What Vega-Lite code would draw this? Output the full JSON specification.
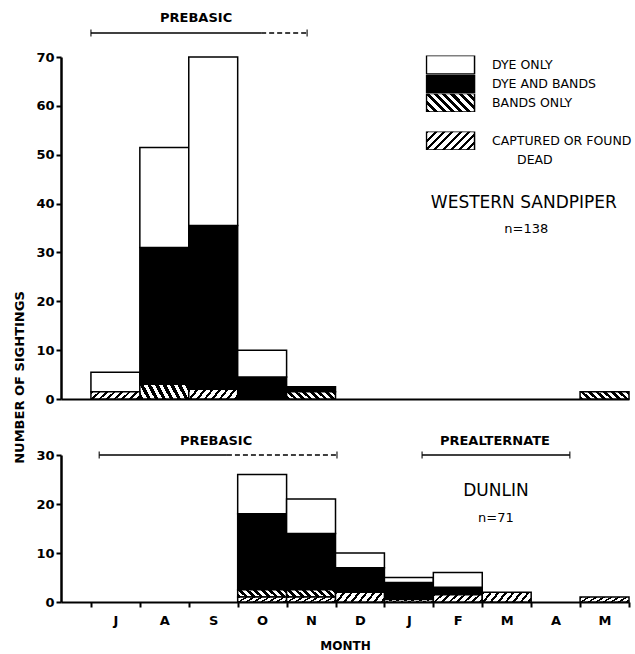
{
  "$schema": "https://vega.github.io/schema/vega-lite/v6.json",
  "padding": {"left": 13, "top": 11, "right": 0, "bottom": 0},
  "background": "white",
  "config": {
    "view": {"stroke": null},
    "font": "DejaVu Sans",
    "axis": {"domainColor": "black", "tickColor": "black", "labelColor": "black", "titleColor": "black", "grid": false}
  },
  "datasets": {
    "ws": [
      {"month": "Jul", "start": 0, "end": 1, "category": "CAPTURED OR FOUND DEAD", "count": 1.5},
      {"month": "Jul", "start": 0, "end": 1, "category": "DYE ONLY", "count": 4},
      {"month": "Aug", "start": 1, "end": 2, "category": "BANDS ONLY", "count": 3},
      {"month": "Aug", "start": 1, "end": 2, "category": "DYE AND BANDS", "count": 28},
      {"month": "Aug", "start": 1, "end": 2, "category": "DYE ONLY", "count": 20.5},
      {"month": "Sep", "start": 2, "end": 3, "category": "CAPTURED OR FOUND DEAD", "count": 2},
      {"month": "Sep", "start": 2, "end": 3, "category": "DYE AND BANDS", "count": 33.5},
      {"month": "Sep", "start": 2, "end": 3, "category": "DYE ONLY", "count": 34.5},
      {"month": "Oct", "start": 3, "end": 4, "category": "DYE AND BANDS", "count": 4.5},
      {"month": "Oct", "start": 3, "end": 4, "category": "DYE ONLY", "count": 5.5},
      {"month": "Nov", "start": 4, "end": 5, "category": "BANDS ONLY", "count": 1.5},
      {"month": "Nov", "start": 4, "end": 5, "category": "DYE AND BANDS", "count": 1},
      {"month": "May", "start": 10, "end": 11, "category": "BANDS ONLY", "count": 1.5}
    ],
    "dunlin": [
      {"month": "Oct", "start": 3, "end": 4, "category": "CAPTURED OR FOUND DEAD", "count": 1},
      {"month": "Oct", "start": 3, "end": 4, "category": "BANDS ONLY", "count": 1.5},
      {"month": "Oct", "start": 3, "end": 4, "category": "DYE AND BANDS", "count": 15.5},
      {"month": "Oct", "start": 3, "end": 4, "category": "DYE ONLY", "count": 8},
      {"month": "Nov", "start": 4, "end": 5, "category": "CAPTURED OR FOUND DEAD", "count": 1},
      {"month": "Nov", "start": 4, "end": 5, "category": "BANDS ONLY", "count": 1.5},
      {"month": "Nov", "start": 4, "end": 5, "category": "DYE AND BANDS", "count": 11.5},
      {"month": "Nov", "start": 4, "end": 5, "category": "DYE ONLY", "count": 7},
      {"month": "Dec", "start": 5, "end": 6, "category": "CAPTURED OR FOUND DEAD", "count": 2},
      {"month": "Dec", "start": 5, "end": 6, "category": "DYE AND BANDS", "count": 5},
      {"month": "Dec", "start": 5, "end": 6, "category": "DYE ONLY", "count": 3},
      {"month": "Jan", "start": 6, "end": 7, "category": "CAPTURED OR FOUND DEAD", "count": 0.5},
      {"month": "Jan", "start": 6, "end": 7, "category": "DYE AND BANDS", "count": 3.5},
      {"month": "Jan", "start": 6, "end": 7, "category": "DYE ONLY", "count": 1},
      {"month": "Feb", "start": 7, "end": 8, "category": "CAPTURED OR FOUND DEAD", "count": 1.5},
      {"month": "Feb", "start": 7, "end": 8, "category": "DYE AND BANDS", "count": 1.5},
      {"month": "Feb", "start": 7, "end": 8, "category": "DYE ONLY", "count": 3},
      {"month": "Mar", "start": 8, "end": 9, "category": "CAPTURED OR FOUND DEAD", "count": 2},
      {"month": "May", "start": 10, "end": 11, "category": "CAPTURED OR FOUND DEAD", "count": 1}
    ],
    "spans": [
      {"panel": "WS", "label": "PREBASIC", "a": 0, "b": 3.48, "c": 4.42, "y": 74.9, "tx": 2.15, "ty": 78},
      {"panel": "DU", "label": "PREBASIC", "a": 0.17, "b": 2.78, "c": 5.03, "y": 30, "tx": 2.56, "ty": 32.9},
      {"panel": "DU", "label": "PREALTERNATE", "a": 6.77, "b": 9.79, "c": 9.79, "y": 30, "tx": 8.26, "ty": 32.9}
    ],
    "titles": [
      {"panel": "WS", "label": "WESTERN SANDPIPER", "tx": 8.85, "ty": 40.1},
      {"panel": "WS", "label": "n=138", "tx": 8.9, "ty": 34.8},
      {"panel": "DU", "label": "DUNLIN", "tx": 8.28, "ty": 22.65},
      {"panel": "DU", "label": "n=71", "tx": 8.28, "ty": 17.1}
    ]
  },
  "spacing": 56,
  "bounds": "flush",
  "resolve": {"scale": {"x": "independent", "y": "independent", "fill": "independent", "stroke": "independent"}},
  "vconcat": [
    {
      "width": 568,
      "height": 342,
      "resolve": {"axis": {"x": "independent", "y": "independent"}},
      "layer": [
        {
          "data": {"name": "ws"},
          "transform": [
            {"calculate": "indexof(['CAPTURED OR FOUND DEAD','BANDS ONLY','DYE AND BANDS','DYE ONLY'], datum.category)", "as": "ord"},
            {"stack": "count", "groupby": ["start"], "sort": [{"field": "ord", "order": "ascending"}], "as": ["y0", "y1"]},
            {"filter": "datum.category == 'DYE ONLY' || datum.category == 'DYE AND BANDS'"}
          ],
          "mark": {"type": "rect", "strokeWidth": 1.5},
          "encoding": {
            "x": {"field": "start", "type": "quantitative", "scale": {"domain": [-0.612, 11], "nice": false, "zero": false}, "axis": {"title": null, "labels": false, "ticks": false, "domainWidth": 2}},
            "x2": {"field": "end"},
            "y": {"field": "y1", "type": "quantitative", "scale": {"domain": [0, 70], "nice": false},
                  "axis": {"values": [0, 10, 20, 30, 40, 50, 60, 70], "title": "NUMBER OF SIGHTINGS", "titleX": -42, "titleY": 320, "titleAlign": "center", "titleBaseline": "middle", "titleFontSize": 13, "titleFontWeight": "bold", "labelFontSize": 13, "labelFontWeight": "bold", "labelPadding": 2, "labelFlush": false, "tickSize": 5, "tickWidth": 2, "domainWidth": 2.5}},
            "y2": {"field": "y0"},
            "fill": {"field": "category", "type": "nominal",
              "scale": {"domain": ["DYE ONLY", "DYE AND BANDS"], "range": ["white", "black"]},
              "legend": null},
            "stroke": {"field": "category", "type": "nominal",
              "scale": {"domain": ["DYE ONLY", "DYE AND BANDS", "BANDS ONLY", " ", "CAPTURED OR FOUND DEAD", "  "], "range": ["black", "black", "black", "transparent", "black", "transparent"]},
              "legend": {"orient": "none", "legendX": 364.5, "legendY": -1.5, "title": null, "clipHeight": 18.5, "symbolOffset": 15, "symbolType": "M-2.6,-1H2.6V1H-2.6Z", "symbolSize": 342, "symbolStrokeWidth": 1.5, "labelFontSize": 12.5, "labelOffset": 31.5, "rowPadding": 0,
                "labelExpr": "datum.value == 'CAPTURED OR FOUND DEAD' ? 'CAPTURED OR FOUND' : datum.value == '  ' ? 'DEAD' : datum.label",
                "encoding": {
                  "labels": {"dx": {"condition": {"test": "datum.value == '  '", "value": 25}, "value": 0}},
                  "symbols": {
                    "fill": {"value": {"expr": "datum.value == 'BANDS ONLY' ? {'gradient': 'linear', 'x1': 0, 'y1': 1, 'x2': 1.2, 'y2': 0.54, 'stops': [{'offset': 0, 'color': 'black'}, {'offset': 0.0625, 'color': 'black'}, {'offset': 0.0625, 'color': 'white'}, {'offset': 0.125, 'color': 'white'}, {'offset': 0.125, 'color': 'black'}, {'offset': 0.1875, 'color': 'black'}, {'offset': 0.1875, 'color': 'white'}, {'offset': 0.25, 'color': 'white'}, {'offset': 0.25, 'color': 'black'}, {'offset': 0.3125, 'color': 'black'}, {'offset': 0.3125, 'color': 'white'}, {'offset': 0.375, 'color': 'white'}, {'offset': 0.375, 'color': 'black'}, {'offset': 0.4375, 'color': 'black'}, {'offset': 0.4375, 'color': 'white'}, {'offset': 0.5, 'color': 'white'}, {'offset': 0.5, 'color': 'black'}, {'offset': 0.5625, 'color': 'black'}, {'offset': 0.5625, 'color': 'white'}, {'offset': 0.625, 'color': 'white'}, {'offset': 0.625, 'color': 'black'}, {'offset': 0.6875, 'color': 'black'}, {'offset': 0.6875, 'color': 'white'}, {'offset': 0.75, 'color': 'white'}, {'offset': 0.75, 'color': 'black'}, {'offset': 0.8125, 'color': 'black'}, {'offset': 0.8125, 'color': 'white'}, {'offset': 0.875, 'color': 'white'}, {'offset': 0.875, 'color': 'black'}, {'offset': 0.9375, 'color': 'black'}, {'offset': 0.9375, 'color': 'white'}, {'offset': 1, 'color': 'white'}]} : datum.value == 'CAPTURED OR FOUND DEAD' ? {'gradient': 'linear', 'x1': 0, 'y1': 0, 'x2': 1.2, 'y2': 0.46, 'stops': [{'offset': 0, 'color': 'black'}, {'offset': 0.045, 'color': 'black'}, {'offset': 0.045, 'color': 'white'}, {'offset': 0.125, 'color': 'white'}, {'offset': 0.125, 'color': 'black'}, {'offset': 0.17, 'color': 'black'}, {'offset': 0.17, 'color': 'white'}, {'offset': 0.25, 'color': 'white'}, {'offset': 0.25, 'color': 'black'}, {'offset': 0.295, 'color': 'black'}, {'offset': 0.295, 'color': 'white'}, {'offset': 0.375, 'color': 'white'}, {'offset': 0.375, 'color': 'black'}, {'offset': 0.42, 'color': 'black'}, {'offset': 0.42, 'color': 'white'}, {'offset': 0.5, 'color': 'white'}, {'offset': 0.5, 'color': 'black'}, {'offset': 0.545, 'color': 'black'}, {'offset': 0.545, 'color': 'white'}, {'offset': 0.625, 'color': 'white'}, {'offset': 0.625, 'color': 'black'}, {'offset': 0.67, 'color': 'black'}, {'offset': 0.67, 'color': 'white'}, {'offset': 0.75, 'color': 'white'}, {'offset': 0.75, 'color': 'black'}, {'offset': 0.795, 'color': 'black'}, {'offset': 0.795, 'color': 'white'}, {'offset': 0.875, 'color': 'white'}, {'offset': 0.875, 'color': 'black'}, {'offset': 0.92, 'color': 'black'}, {'offset': 0.92, 'color': 'white'}, {'offset': 1, 'color': 'white'}]} : datum.value == 'DYE AND BANDS' ? 'black' : datum.value == 'DYE ONLY' ? 'white' : 'transparent'"}}
                  }}}}
          }
        },
        {
          "data": {"name": "ws"},
          "transform": [
            {"calculate": "indexof(['CAPTURED OR FOUND DEAD','BANDS ONLY','DYE AND BANDS','DYE ONLY'], datum.category)", "as": "ord"},
            {"stack": "count", "groupby": ["start"], "sort": [{"field": "ord", "order": "ascending"}], "as": ["y0", "y1"]},
            {"filter": "datum.category == 'BANDS ONLY'"}
          ],
          "mark": {"type": "rect", "strokeWidth": 1.5, "stroke": "black",
            "fill": {"gradient": "linear", "x1": 0, "y1": 1, "x2": 1.2, "y2": 0.808, "stops": [
              {"offset": 0, "color": "black"}, {"offset": 0.0625, "color": "black"}, {"offset": 0.0625, "color": "white"}, {"offset": 0.125, "color": "white"},
              {"offset": 0.125, "color": "black"}, {"offset": 0.1875, "color": "black"}, {"offset": 0.1875, "color": "white"}, {"offset": 0.25, "color": "white"},
              {"offset": 0.25, "color": "black"}, {"offset": 0.3125, "color": "black"}, {"offset": 0.3125, "color": "white"}, {"offset": 0.375, "color": "white"},
              {"offset": 0.375, "color": "black"}, {"offset": 0.4375, "color": "black"}, {"offset": 0.4375, "color": "white"}, {"offset": 0.5, "color": "white"},
              {"offset": 0.5, "color": "black"}, {"offset": 0.5625, "color": "black"}, {"offset": 0.5625, "color": "white"}, {"offset": 0.625, "color": "white"},
              {"offset": 0.625, "color": "black"}, {"offset": 0.6875, "color": "black"}, {"offset": 0.6875, "color": "white"}, {"offset": 0.75, "color": "white"},
              {"offset": 0.75, "color": "black"}, {"offset": 0.8125, "color": "black"}, {"offset": 0.8125, "color": "white"}, {"offset": 0.875, "color": "white"},
              {"offset": 0.875, "color": "black"}, {"offset": 0.9375, "color": "black"}, {"offset": 0.9375, "color": "white"}, {"offset": 1, "color": "white"}]}},
          "encoding": {
            "x": {"field": "start", "type": "quantitative", "scale": {"domain": [-0.612, 11], "nice": false, "zero": false}, "axis": null},
            "x2": {"field": "end"},
            "y": {"field": "y1", "type": "quantitative", "scale": {"domain": [0, 70], "nice": false}, "axis": null},
            "y2": {"field": "y0"}
          }
        },
        {
          "data": {"name": "ws"},
          "transform": [
            {"calculate": "indexof(['CAPTURED OR FOUND DEAD','BANDS ONLY','DYE AND BANDS','DYE ONLY'], datum.category)", "as": "ord"},
            {"stack": "count", "groupby": ["start"], "sort": [{"field": "ord", "order": "ascending"}], "as": ["y0", "y1"]},
            {"filter": "datum.category == 'CAPTURED OR FOUND DEAD'"}
          ],
          "mark": {"type": "rect", "strokeWidth": 1.5, "stroke": "black",
            "fill": {"gradient": "linear", "x1": 0, "y1": 0, "x2": 1.2, "y2": 0.192, "stops": [
              {"offset": 0, "color": "black"}, {"offset": 0.045, "color": "black"}, {"offset": 0.045, "color": "white"}, {"offset": 0.125, "color": "white"},
              {"offset": 0.125, "color": "black"}, {"offset": 0.17, "color": "black"}, {"offset": 0.17, "color": "white"}, {"offset": 0.25, "color": "white"},
              {"offset": 0.25, "color": "black"}, {"offset": 0.295, "color": "black"}, {"offset": 0.295, "color": "white"}, {"offset": 0.375, "color": "white"},
              {"offset": 0.375, "color": "black"}, {"offset": 0.42, "color": "black"}, {"offset": 0.42, "color": "white"}, {"offset": 0.5, "color": "white"},
              {"offset": 0.5, "color": "black"}, {"offset": 0.545, "color": "black"}, {"offset": 0.545, "color": "white"}, {"offset": 0.625, "color": "white"},
              {"offset": 0.625, "color": "black"}, {"offset": 0.67, "color": "black"}, {"offset": 0.67, "color": "white"}, {"offset": 0.75, "color": "white"},
              {"offset": 0.75, "color": "black"}, {"offset": 0.795, "color": "black"}, {"offset": 0.795, "color": "white"}, {"offset": 0.875, "color": "white"},
              {"offset": 0.875, "color": "black"}, {"offset": 0.92, "color": "black"}, {"offset": 0.92, "color": "white"}, {"offset": 1, "color": "white"}]}},
          "encoding": {
            "x": {"field": "start", "type": "quantitative", "scale": {"domain": [-0.612, 11], "nice": false, "zero": false}, "axis": null},
            "x2": {"field": "end"},
            "y": {"field": "y1", "type": "quantitative", "scale": {"domain": [0, 70], "nice": false}, "axis": null},
            "y2": {"field": "y0"}
          }
        },
        {
          "data": {"name": "spans"},
          "transform": [{"filter": "datum.panel == 'WS'"}],
          "mark": {"type": "rule", "strokeWidth": 1.5, "color": "black"},
          "encoding": {
            "x": {"field": "a", "type": "quantitative", "scale": {"domain": [-0.612, 11], "nice": false, "zero": false}, "axis": null},
            "x2": {"field": "b"},
            "y": {"field": "y", "type": "quantitative", "scale": {"domain": [0, 70], "nice": false}, "axis": null}
          }
        },
        {
          "data": {"name": "spans"},
          "transform": [{"filter": "datum.panel == 'WS'"}],
          "mark": {"type": "rule", "strokeWidth": 1.5, "color": "black", "strokeDash": [5, 3]},
          "encoding": {
            "x": {"field": "b", "type": "quantitative", "scale": {"domain": [-0.612, 11], "nice": false, "zero": false}, "axis": null},
            "x2": {"field": "c"},
            "y": {"field": "y", "type": "quantitative", "scale": {"domain": [0, 70], "nice": false}, "axis": null}
          }
        },
        {
          "data": {"name": "spans"},
          "transform": [{"filter": "datum.panel == 'WS'"}, {"fold": ["a", "c"], "as": ["end", "xpos"]}],
          "mark": {"type": "tick", "orient": "vertical", "size": 7, "thickness": 1.5, "color": "black"},
          "encoding": {
            "x": {"field": "xpos", "type": "quantitative", "scale": {"domain": [-0.612, 11], "nice": false, "zero": false}, "axis": null},
            "y": {"field": "y", "type": "quantitative", "scale": {"domain": [0, 70], "nice": false}, "axis": null}
          }
        },
        {
          "data": {"name": "spans"},
          "transform": [{"filter": "datum.panel == 'WS'"}],
          "mark": {"type": "text", "fontSize": 13, "fontWeight": "bold", "color": "black"},
          "encoding": {
            "x": {"field": "tx", "type": "quantitative", "scale": {"domain": [-0.612, 11], "nice": false, "zero": false}, "axis": null},
            "y": {"field": "ty", "type": "quantitative", "scale": {"domain": [0, 70], "nice": false}, "axis": null},
            "text": {"field": "label"}
          }
        },
        {
          "data": {"name": "titles"},
          "transform": [{"filter": "datum.panel == 'WS'"}],
          "mark": {"type": "text", "color": "black"},
          "encoding": {
            "x": {"field": "tx", "type": "quantitative", "scale": {"domain": [-0.612, 11], "nice": false, "zero": false}, "axis": null},
            "y": {"field": "ty", "type": "quantitative", "scale": {"domain": [0, 70], "nice": false}, "axis": null},
            "text": {"field": "label"},
            "size": {"condition": {"test": "indexof(datum.label, 'n=') == 0", "value": 13}, "value": 17}
          }
        }
      ]
    },
    {
      "width": 568,
      "height": 147,
      "resolve": {"axis": {"x": "independent", "y": "independent"}},
      "layer": [
        {
          "data": {"name": "dunlin"},
          "transform": [
            {"calculate": "indexof(['CAPTURED OR FOUND DEAD','BANDS ONLY','DYE AND BANDS','DYE ONLY'], datum.category)", "as": "ord"},
            {"stack": "count", "groupby": ["start"], "sort": [{"field": "ord", "order": "ascending"}], "as": ["y0", "y1"]},
            {"filter": "datum.category == 'DYE ONLY' || datum.category == 'DYE AND BANDS'"}
          ],
          "mark": {"type": "rect", "strokeWidth": 1.5, "stroke": "black"},
          "encoding": {
            "x": {"field": "start", "type": "quantitative", "scale": {"domain": [-0.612, 11], "nice": false, "zero": false},
                  "axis": {"values": [0, 0.5, 1, 1.5, 2, 2.5, 3, 3.5, 4, 4.5, 5, 5.5, 6, 6.5, 7, 7.5, 8, 8.5, 9, 9.5, 10, 10.5, 11],
                           "labelExpr": "(datum.value % 1) == 0.5 ? ['J','A','S','O','N','D','J','F','M','A','M'][floor(datum.value)] : ''",
                           "tickOpacity": {"condition": {"test": "(datum.value % 1) == 0.5", "value": 0}, "value": 1},
                           "title": "MONTH", "titleFontSize": 12, "titleFontWeight": "bold", "titlePadding": 13,
                           "tickSize": 5, "tickWidth": 2, "domainWidth": 2, "labelFontSize": 13, "labelFontWeight": "bold", "labelPadding": 7, "labelOverlap": false, "labelFlush": false}},
            "x2": {"field": "end"},
            "y": {"field": "y1", "type": "quantitative", "scale": {"domain": [0, 30], "nice": false},
                  "axis": {"values": [0, 10, 20, 30], "title": null, "labelFontSize": 13, "labelFontWeight": "bold", "labelPadding": 2, "labelFlush": false, "tickSize": 5, "tickWidth": 2, "domainWidth": 2.5}},
            "y2": {"field": "y0"},
            "fill": {"field": "category", "type": "nominal",
              "scale": {"domain": ["DYE ONLY", "DYE AND BANDS"], "range": ["white", "black"]},
              "legend": null}
          }
        },
        {
          "data": {"name": "dunlin"},
          "transform": [
            {"calculate": "indexof(['CAPTURED OR FOUND DEAD','BANDS ONLY','DYE AND BANDS','DYE ONLY'], datum.category)", "as": "ord"},
            {"stack": "count", "groupby": ["start"], "sort": [{"field": "ord", "order": "ascending"}], "as": ["y0", "y1"]},
            {"filter": "datum.category == 'BANDS ONLY'"}
          ],
          "mark": {"type": "rect", "strokeWidth": 1.5, "stroke": "black",
            "fill": {"gradient": "linear", "x1": 0, "y1": 1, "x2": 1.2, "y2": 0.808, "stops": [
              {"offset": 0, "color": "black"}, {"offset": 0.0625, "color": "black"}, {"offset": 0.0625, "color": "white"}, {"offset": 0.125, "color": "white"},
              {"offset": 0.125, "color": "black"}, {"offset": 0.1875, "color": "black"}, {"offset": 0.1875, "color": "white"}, {"offset": 0.25, "color": "white"},
              {"offset": 0.25, "color": "black"}, {"offset": 0.3125, "color": "black"}, {"offset": 0.3125, "color": "white"}, {"offset": 0.375, "color": "white"},
              {"offset": 0.375, "color": "black"}, {"offset": 0.4375, "color": "black"}, {"offset": 0.4375, "color": "white"}, {"offset": 0.5, "color": "white"},
              {"offset": 0.5, "color": "black"}, {"offset": 0.5625, "color": "black"}, {"offset": 0.5625, "color": "white"}, {"offset": 0.625, "color": "white"},
              {"offset": 0.625, "color": "black"}, {"offset": 0.6875, "color": "black"}, {"offset": 0.6875, "color": "white"}, {"offset": 0.75, "color": "white"},
              {"offset": 0.75, "color": "black"}, {"offset": 0.8125, "color": "black"}, {"offset": 0.8125, "color": "white"}, {"offset": 0.875, "color": "white"},
              {"offset": 0.875, "color": "black"}, {"offset": 0.9375, "color": "black"}, {"offset": 0.9375, "color": "white"}, {"offset": 1, "color": "white"}]}},
          "encoding": {
            "x": {"field": "start", "type": "quantitative", "scale": {"domain": [-0.612, 11], "nice": false, "zero": false}, "axis": null},
            "x2": {"field": "end"},
            "y": {"field": "y1", "type": "quantitative", "scale": {"domain": [0, 30], "nice": false}, "axis": null},
            "y2": {"field": "y0"}
          }
        },
        {
          "data": {"name": "dunlin"},
          "transform": [
            {"calculate": "indexof(['CAPTURED OR FOUND DEAD','BANDS ONLY','DYE AND BANDS','DYE ONLY'], datum.category)", "as": "ord"},
            {"stack": "count", "groupby": ["start"], "sort": [{"field": "ord", "order": "ascending"}], "as": ["y0", "y1"]},
            {"filter": "datum.category == 'CAPTURED OR FOUND DEAD'"}
          ],
          "mark": {"type": "rect", "strokeWidth": 1.5, "stroke": "black",
            "fill": {"gradient": "linear", "x1": 0, "y1": 0, "x2": 1.2, "y2": 0.192, "stops": [
              {"offset": 0, "color": "black"}, {"offset": 0.045, "color": "black"}, {"offset": 0.045, "color": "white"}, {"offset": 0.125, "color": "white"},
              {"offset": 0.125, "color": "black"}, {"offset": 0.17, "color": "black"}, {"offset": 0.17, "color": "white"}, {"offset": 0.25, "color": "white"},
              {"offset": 0.25, "color": "black"}, {"offset": 0.295, "color": "black"}, {"offset": 0.295, "color": "white"}, {"offset": 0.375, "color": "white"},
              {"offset": 0.375, "color": "black"}, {"offset": 0.42, "color": "black"}, {"offset": 0.42, "color": "white"}, {"offset": 0.5, "color": "white"},
              {"offset": 0.5, "color": "black"}, {"offset": 0.545, "color": "black"}, {"offset": 0.545, "color": "white"}, {"offset": 0.625, "color": "white"},
              {"offset": 0.625, "color": "black"}, {"offset": 0.67, "color": "black"}, {"offset": 0.67, "color": "white"}, {"offset": 0.75, "color": "white"},
              {"offset": 0.75, "color": "black"}, {"offset": 0.795, "color": "black"}, {"offset": 0.795, "color": "white"}, {"offset": 0.875, "color": "white"},
              {"offset": 0.875, "color": "black"}, {"offset": 0.92, "color": "black"}, {"offset": 0.92, "color": "white"}, {"offset": 1, "color": "white"}]}},
          "encoding": {
            "x": {"field": "start", "type": "quantitative", "scale": {"domain": [-0.612, 11], "nice": false, "zero": false}, "axis": null},
            "x2": {"field": "end"},
            "y": {"field": "y1", "type": "quantitative", "scale": {"domain": [0, 30], "nice": false}, "axis": null},
            "y2": {"field": "y0"}
          }
        },
        {
          "data": {"name": "spans"},
          "transform": [{"filter": "datum.panel == 'DU'"}],
          "mark": {"type": "rule", "strokeWidth": 1.5, "color": "black"},
          "encoding": {
            "x": {"field": "a", "type": "quantitative", "scale": {"domain": [-0.612, 11], "nice": false, "zero": false}, "axis": null},
            "x2": {"field": "b"},
            "y": {"field": "y", "type": "quantitative", "scale": {"domain": [0, 30], "nice": false}, "axis": null}
          }
        },
        {
          "data": {"name": "spans"},
          "transform": [{"filter": "datum.panel == 'DU'"}],
          "mark": {"type": "rule", "strokeWidth": 1.5, "color": "black", "strokeDash": [5, 3]},
          "encoding": {
            "x": {"field": "b", "type": "quantitative", "scale": {"domain": [-0.612, 11], "nice": false, "zero": false}, "axis": null},
            "x2": {"field": "c"},
            "y": {"field": "y", "type": "quantitative", "scale": {"domain": [0, 30], "nice": false}, "axis": null}
          }
        },
        {
          "data": {"name": "spans"},
          "transform": [{"filter": "datum.panel == 'DU'"}, {"fold": ["a", "c"], "as": ["end", "xpos"]}],
          "mark": {"type": "tick", "orient": "vertical", "size": 7, "thickness": 1.5, "color": "black"},
          "encoding": {
            "x": {"field": "xpos", "type": "quantitative", "scale": {"domain": [-0.612, 11], "nice": false, "zero": false}, "axis": null},
            "y": {"field": "y", "type": "quantitative", "scale": {"domain": [0, 30], "nice": false}, "axis": null}
          }
        },
        {
          "data": {"name": "spans"},
          "transform": [{"filter": "datum.panel == 'DU'"}],
          "mark": {"type": "text", "fontSize": 13, "fontWeight": "bold", "color": "black"},
          "encoding": {
            "x": {"field": "tx", "type": "quantitative", "scale": {"domain": [-0.612, 11], "nice": false, "zero": false}, "axis": null},
            "y": {"field": "ty", "type": "quantitative", "scale": {"domain": [0, 30], "nice": false}, "axis": null},
            "text": {"field": "label"}
          }
        },
        {
          "data": {"name": "titles"},
          "transform": [{"filter": "datum.panel == 'DU'"}],
          "mark": {"type": "text", "color": "black"},
          "encoding": {
            "x": {"field": "tx", "type": "quantitative", "scale": {"domain": [-0.612, 11], "nice": false, "zero": false}, "axis": null},
            "y": {"field": "ty", "type": "quantitative", "scale": {"domain": [0, 30], "nice": false}, "axis": null},
            "text": {"field": "label"},
            "size": {"condition": {"test": "indexof(datum.label, 'n=') == 0", "value": 13}, "value": 17}
          }
        }
      ]
    }
  ]
}
